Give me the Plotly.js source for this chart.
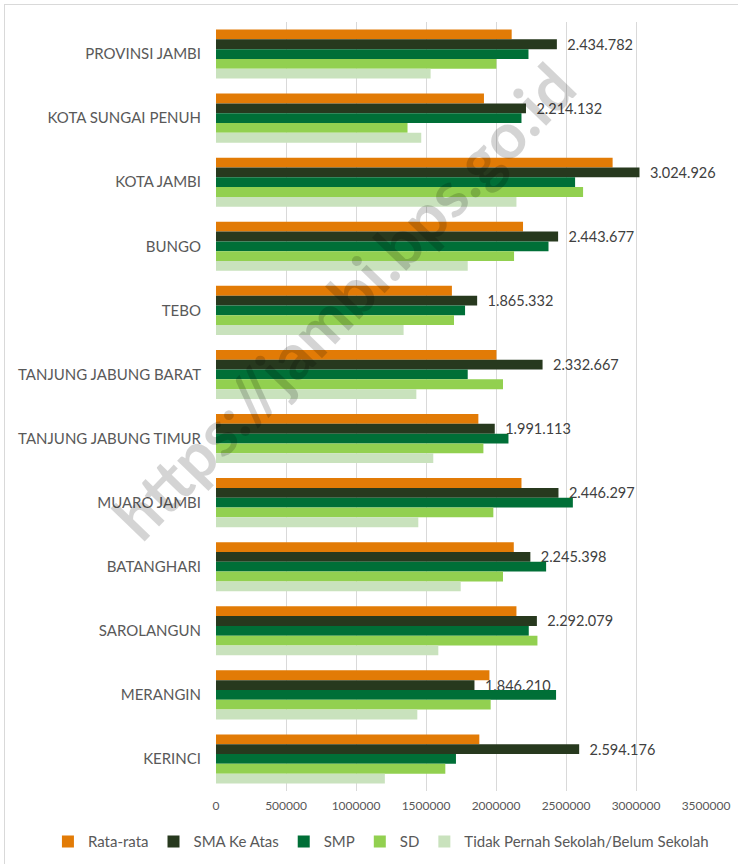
<!DOCTYPE html>
<html>
<head>
<meta charset="utf-8">
<script src="https://cdn.plot.ly/plotly-3.0.1.min.js"></script>
<style>
  html, body { margin: 0; padding: 0; background: #ffffff; }
  #wrap { position: relative; width: 738px; height: 864px; overflow: hidden; }
  #frame { position: absolute; left: 4px; top: 4px; width: 800px; height: 900px;
           border-left: 1px solid #d9d9d9; border-top: 1px solid #d9d9d9; pointer-events: none; }
  #chart { position: absolute; left: 0; top: 0; width: 738px; height: 864px; }
</style>
</head>
<body>
<div id="wrap">
  <div id="chart"></div>
  <div id="frame"></div>
</div>
<script>
const categories = [
  "PROVINSI JAMBI", "KOTA SUNGAI PENUH", "KOTA JAMBI", "BUNGO", "TEBO",
  "TANJUNG JABUNG BARAT", "TANJUNG JABUNG TIMUR", "MUARO JAMBI", "BATANGHARI",
  "SAROLANGUN", "MERANGIN", "KERINCI"
];
const seriesNames = ["Rata-rata", "SMA Ke Atas", "SMP", "SD", "Tidak Pernah Sekolah/Belum Sekolah"];
const rataRata = [2112000, 1914000, 2833000, 2193000, 1685000, 2003000, 1874000, 2182000, 2127000, 2146000, 1953000, 1881000];
const smaKeAtas = [2434782, 2214132, 3024926, 2443677, 1865332, 2332667, 1991113, 2446297, 2245398, 2292079, 1846210, 2594176];
const smp = [2232000, 2182000, 2565000, 2375000, 1779000, 1798000, 2089000, 2549000, 2358000, 2234000, 2429000, 1714000];
const sd = [2003000, 1368000, 2622000, 2129000, 1700000, 2050000, 1910000, 1981000, 2050000, 2296000, 1962000, 1638000];
const tidakSekolah = [1533000, 1466000, 2146000, 1798000, 1340000, 1431000, 1552000, 1445000, 1748000, 1588000, 1438000, 1206000];
const xTicks = [0, 500000, 1000000, 1500000, 2000000, 2500000, 3000000, 3500000];
const watermark = "https://jambi.bps.go.id";

const colors = ["#e27b06", "#27391e", "#006f37", "#92d050", "#c9e2bd"];
const seriesValues = [rataRata, smaKeAtas, smp, sd, tidakSekolah];

function fmtDots(v) {
  return String(v).replace(/\B(?=(\d{3})+(?!\d))/g, ".");
}

const FONT = "Lato, 'Open Sans', sans-serif";

const traces = seriesValues.map((vals, i) => {
  const t = {
    type: "bar",
    orientation: "h",
    name: seriesNames[i],
    y: categories,
    x: vals,
    marker: { color: colors[i], line: { width: 0 } },
    hoverinfo: "skip"
  };
  if (i === 1) {
    t.text = vals.map(v => "\u00a0\u00a0" + fmtDots(v));
    t.textposition = "outside";
    t.cliponaxis = false;
    t.constraintext = "none";
    t.textfont = { family: FONT, size: 14.5, color: "#404040" };
  } else {
    t.textposition = "none";
  }
  return t;
});

const layout = {
  width: 738,
  height: 864,
  paper_bgcolor: "rgba(0,0,0,0)",
  plot_bgcolor: "rgba(0,0,0,0)",
  margin: { l: 216, r: 32, t: 22, b: 73, autoexpand: false },
  barmode: "group",
  bargap: 0.235,
  bargroupgap: 0,
  font: { family: FONT, color: "#595959" },
  showlegend: true,
  legend: {
    orientation: "h",
    x: -0.343,
    xanchor: "left",
    y: -0.066,
    yanchor: "middle",
    font: { family: FONT, size: 15, color: "#595959" },
    itemwidth: 30,
    traceorder: "normal",
    bgcolor: "rgba(0,0,0,0)"
  },
  xaxis: {
    range: [0, 3500000],
    tickmode: "array",
    tickvals: xTicks,
    ticktext: xTicks.map(String),
    showgrid: true,
    gridcolor: "#d9d9d9",
    gridwidth: 1,
    zeroline: false,
    showline: false,
    ticks: "",
    automargin: false,
    ticklabelstandoff: 6,
    tickfont: { family: FONT, size: 12, color: "#595959" },
    fixedrange: true
  },
  yaxis: {
    type: "category",
    categoryorder: "array",
    categoryarray: categories,
    autorange: "reversed",
    showgrid: false,
    zeroline: false,
    showline: false,
    ticks: "",
    automargin: false,
    ticklabelstandoff: 14,
    tickfont: { family: FONT, size: 15, color: "#595959" },
    fixedrange: true
  },
  annotations: [{
    text: "<b>" + watermark + "</b>",
    xref: "paper", yref: "paper",
    x: 0.26, y: 0.638,
    xanchor: "center", yanchor: "middle",
    showarrow: false,
    textangle: -46,
    font: { family: FONT, size: 64, color: "rgba(0,0,0,0.17)" }
  }]
};

Plotly.newPlot("chart", traces, layout, { displayModeBar: false, staticPlot: true });
</script>
</body>
</html>
